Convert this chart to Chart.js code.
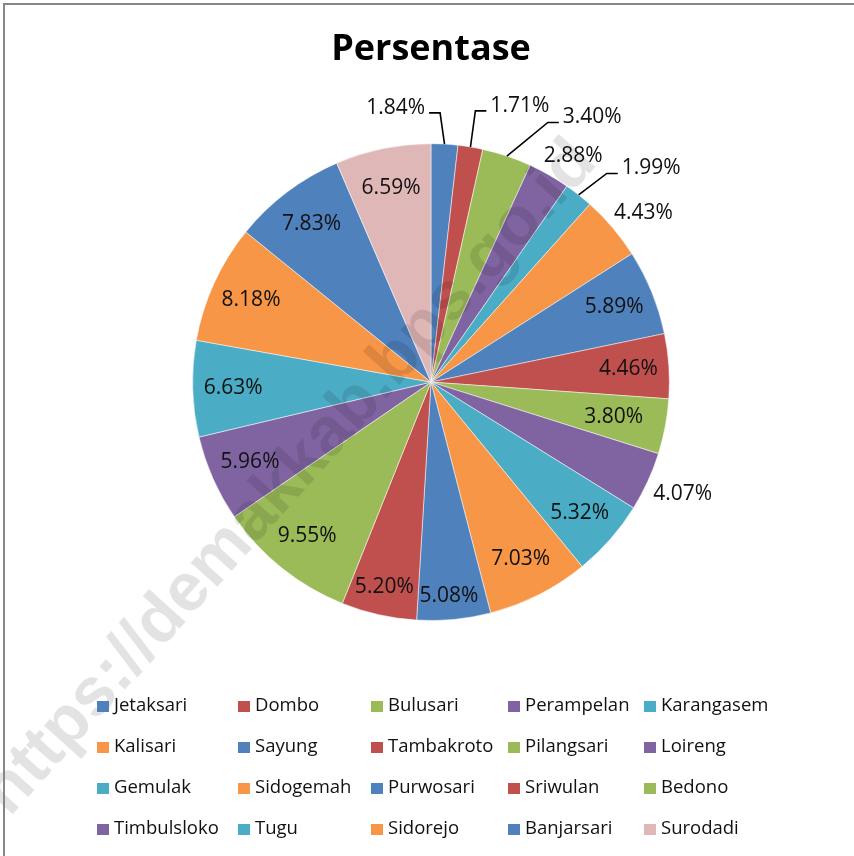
<!DOCTYPE html>
<html>
<head>
<meta charset="utf-8">
<script src="https://cdn.jsdelivr.net/npm/chart.js@4.4.0/dist/chart.umd.min.js"></script>
<style>
  body { margin: 0; background: #fff; }
  #wrap { position: relative; width: 854px; height: 856px; overflow: hidden; }
  #frame { position: absolute; left: 3px; top: 3px; width: 1000px; height: 1000px; border: 2px solid #878787; }
  #legend { position: absolute; left: 0; top: 0; width: 854px; height: 856px; pointer-events: none;
            font-family: "Open Sans", sans-serif; font-size: 18.5px; color: #111; }
  .item { position: absolute; white-space: nowrap; line-height: 20px; }
  .box { display: inline-block; width: 12px; height: 11px; margin-right: 5px; vertical-align: -1px; }
</style>
</head>
<body>
<div id="wrap">
  <div id="frame"></div>
  <canvas id="pie" width="854" height="856"></canvas>
  <div id="legend"></div>
</div>
<script>
// data
var villages = ["Jetaksari", "Dombo", "Bulusari", "Perampelan", "Karangasem",
  "Kalisari", "Sayung", "Tambakroto", "Pilangsari", "Loireng",
  "Gemulak", "Sidogemah", "Purwosari", "Sriwulan", "Bedono",
  "Timbulsloko", "Tugu", "Sidorejo", "Banjarsari", "Surodadi"];
var percent = [1.84, 1.71, 3.40, 2.88, 1.99,
  4.43, 5.89, 4.46, 3.80, 4.07,
  5.32, 7.03, 5.08, 5.20, 9.55,
  5.96, 6.63, 8.18, 7.83, 6.59];

var blue = "#4F81BD", red = "#C0504D", green = "#9BBB59", purple = "#8064A2",
    cyan = "#4BACC6", orange = "#F79646", pink = "#E0B7B7";
var colors = [blue, red, green, purple, cyan,
  orange, blue, red, green, purple,
  cyan, orange, blue, red, green,
  purple, cyan, orange, blue, pink];

// label placement: r = distance as part of the radius, da = angle shift (deg), leader = draw a line
var labelPlace = {
  0: { r: 1.16, da: -10.6, leader: "left" },
  1: { r: 1.217, da: 8.3, leader: "right" },
  2: { r: 1.30, da: 12.8, leader: "right" },
  3: { r: 1.12, da: 2.5 },
  4: { r: 1.287, da: 7.6, leader: "right" },
  5: { r: 1.14, da: 1.8 },
  8: { r: 0.78, da: 0 },
  9: { r: 1.155, da: -0.7 },
  12: { r: 0.90, da: 0.7 },
  13: { r: 0.88, da: 0.2 }
};

// percentage labels
var pieLabels = {
  id: "pieLabels",
  afterDatasetsDraw: function(chart) {
    var ctx = chart.ctx;
    var arcs = chart.getDatasetMeta(0).data;
    ctx.save();
    ctx.font = '21px "Open Sans", sans-serif';
    ctx.fillStyle = "#111";
    ctx.textAlign = "center";
    ctx.textBaseline = "middle";
    arcs.forEach(function(arc, i) {
      var p = labelPlace[i] || { r: 0.83, da: 0 };
      var mid = (arc.startAngle + arc.endAngle) / 2;
      var R = arc.outerRadius;
      var a = mid + p.da * Math.PI / 180;
      var tx = arc.x + Math.cos(a) * R * p.r;
      var ty = arc.y + Math.sin(a) * R * p.r;
      var txt = percent[i].toFixed(2) + "%";
      ctx.fillText(txt, tx, ty);
      if (p.leader) {
        var w = ctx.measureText(txt).width;
        var dir = p.leader === "left" ? 1 : -1;
        var edgeX = tx + dir * w / 2;
        var ly = ty + 5;
        ctx.beginPath();
        ctx.lineWidth = 1.6;
        ctx.strokeStyle = "#000";
        ctx.moveTo(arc.x + Math.cos(mid) * R, arc.y + Math.sin(mid) * R);
        ctx.lineTo(edgeX + dir * 15, ly);
        ctx.lineTo(edgeX + dir * 4, ly);
        ctx.stroke();
      }
    });
    ctx.restore();
  }
};

// watermark
var watermark = {
  id: "watermark",
  afterDraw: function(chart) {
    var ctx = chart.ctx;
    ctx.save();
    ctx.translate(290, 478);
    ctx.rotate(-48 * Math.PI / 180);
    ctx.font = 'bold 68px "Liberation Sans", Arial, sans-serif';
    ctx.fillStyle = "rgba(0,0,0,0.11)";
    ctx.textAlign = "center";
    ctx.textBaseline = "middle";
    ctx.fillText("https://demakkab.bps.go.id", 0, 0);
    ctx.restore();
  }
};

new Chart(document.getElementById("pie"), {
  type: "pie",
  data: {
    labels: villages,
    datasets: [{
      data: percent,
      backgroundColor: colors,
      borderColor: "rgba(255,255,255,0.5)",
      borderWidth: 1
    }]
  },
  options: {
    responsive: false,
    animation: false,
    layout: { padding: { left: 192, right: 184, top: 0, bottom: 235 } },
    plugins: {
      legend: { display: false },
      tooltip: { enabled: false },
      title: {
        display: true,
        text: "Persentase",
        color: "#000",
        font: { family: '"Open Sans", sans-serif', size: 36, weight: "bold", lineHeight: 1.2 },
        padding: { top: 28, bottom: 72 }
      }
    }
  },
  plugins: [pieLabels, watermark]
});

// legend, 5 columns x 4 rows
var colX = [97, 238, 371, 508, 644];
var rowY = [705, 746, 787, 828];
var legend = document.getElementById("legend");
villages.forEach(function(name, i) {
  var d = document.createElement("div");
  d.className = "item";
  d.style.left = colX[i % 5] + "px";
  d.style.top = (rowY[Math.floor(i / 5)] - 11) + "px";
  d.innerHTML = '<span class="box" style="background:' + colors[i] + '"></span>' + name;
  legend.appendChild(d);
});
</script>
</body>
</html>
